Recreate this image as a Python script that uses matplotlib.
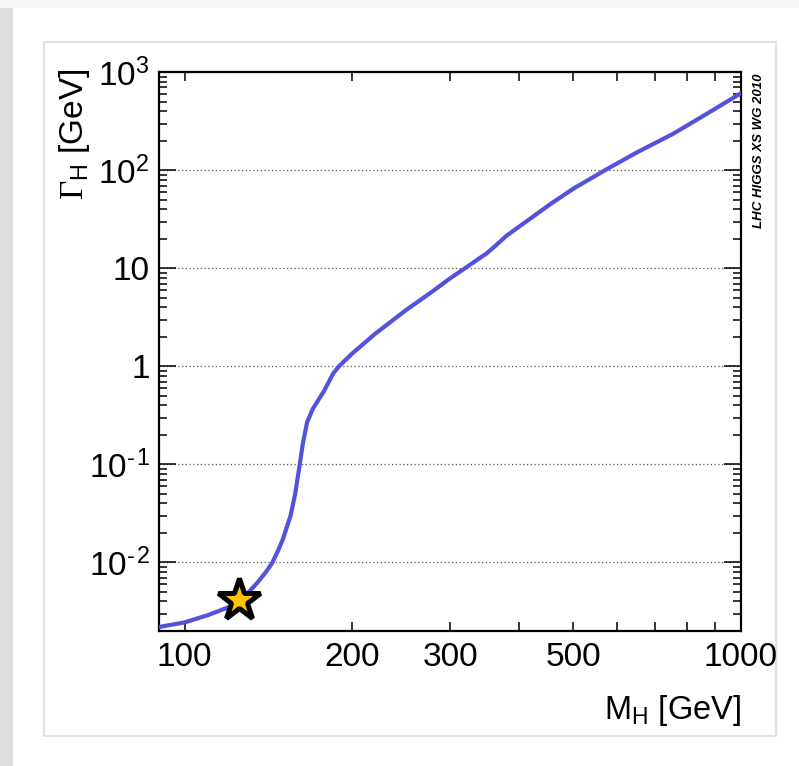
import numpy as np
import matplotlib.pyplot as plt
from matplotlib.patches import Rectangle
from matplotlib.ticker import FixedLocator, NullFormatter, LogLocator

# Higgs total width vs mass
mass = [90, 100, 110, 120, 125, 130, 135, 140, 143.5, 147, 150, 153, 155, 158,
        161, 163, 166, 170, 178, 185, 190, 200, 220, 250, 280, 300, 313, 349,
        360, 379, 424, 454, 500, 573, 650, 755, 850, 1000]
width = [2.2e-3, 2.45e-3, 2.9e-3, 3.5e-3, 4.1e-3, 4.9e-3, 6.2e-3, 8.0e-3, 9.8e-3,
         1.3e-2, 1.7e-2, 2.4e-2, 3.0e-2, 5.0e-2, 0.1, 0.16, 0.27, 0.37, 0.56,
         0.85, 1.02, 1.35, 2.15, 3.75, 5.9, 7.9, 9.3, 14.2, 16.5, 21.5, 34, 45,
         65, 102, 152, 235, 350, 610]

star_mass = [125]
star_width = [4.1e-3]

xticks_major = [100, 200, 300, 400, 500, 600, 700, 800, 900, 1000]
xtick_labels = ["100", "200", "300", "", "500", "", "", "", "", "1000"]
yticks = [1e-2, 1e-1, 1, 10, 1e2, 1e3]
ytick_labels = ["$10^{\u2010\u200a2}$", "$10^{\u2010\u200a1}$", "1", "10", r"$10^{2}$", r"$10^{3}$"]

plt.rcParams["font.family"] = ["Liberation Sans", "DejaVu Sans"]
plt.rcParams["mathtext.fontset"] = "custom"
plt.rcParams["mathtext.rm"] = "Liberation Serif"
plt.rcParams["mathtext.sf"] = "Liberation Sans"
plt.rcParams["mathtext.it"] = "Liberation Sans:italic"
plt.rcParams["mathtext.default"] = "sf"

fig = plt.figure(figsize=(7.99, 7.66), dpi=100)
W, H = 799, 766

# slide-like background: shadow strip at left, faint strip at top, panel border
fig.patches.append(Rectangle((0, 1 - 8 / H), 1, 8 / H, transform=fig.transFigure,
                             facecolor="#f7f6f4", edgecolor="none", zorder=-10))
fig.patches.append(Rectangle((0, 0), 13 / W, 1 - 8 / H, transform=fig.transFigure,
                             facecolor="#dedede", edgecolor="none", zorder=-10))
fig.patches.append(Rectangle((43.5 / W, 1 - 736 / H), (776 - 43.5) / W, (736 - 42) / H,
                             transform=fig.transFigure, facecolor="white",
                             edgecolor="#e2e2e2", linewidth=1.5, zorder=-10))

ax = fig.add_axes([159.3 / W, 1 - 631 / H, (740.7 - 159.3) / W, (631 - 72.3) / H])
ax.set_zorder(1)
ax.set_xscale("log")
ax.set_yscale("log")
ax.set_xlim(90, 1000)
ax.set_ylim(2e-3, 1e3)

ax.plot(mass, width, color="#5252dc", linewidth=3.0, solid_joinstyle="round", zorder=3)
ax.plot(star_mass, star_width, marker="*", markersize=32, markerfacecolor="#ffc400",
        markeredgecolor="black", markeredgewidth=3.6, linestyle="none", zorder=4,
        clip_on=False)

# horizontal dotted grid at decades only
for yv in yticks:
    ax.axhline(yv, color="#555555", linestyle=(0, (1, 2)), linewidth=0.9, zorder=1)

ax.xaxis.set_major_locator(FixedLocator(xticks_major))
ax.set_xticklabels(xtick_labels)
ax.xaxis.set_minor_formatter(NullFormatter())
ax.xaxis.set_minor_locator(FixedLocator([]))
ax.yaxis.set_major_locator(FixedLocator(yticks))
ax.set_yticklabels(ytick_labels)
ax.yaxis.set_minor_locator(LogLocator(base=10, subs=np.arange(2, 10)))
ax.yaxis.set_minor_formatter(NullFormatter())

ax.tick_params(which="both", direction="in", top=True, right=True, width=1.1,
               labelsize=24, colors="black")
ax.tick_params(axis="x", which="major", length=6.5, pad=8)
ax.tick_params(axis="y", which="major", length=12, pad=7)
ax.tick_params(axis="y", which="minor", length=6)
for s in ax.spines.values():
    s.set_linewidth(1.6)

fig.text(741 / W, 1 - 711 / H, r"M$_{\mathsf{H}}$ [GeV]", ha="right", va="center",
         fontsize=23.5)
fig.text(75 / W, 1 - 68 / H, r"$\mathrm{\Gamma}_{\mathsf{H}}$ [GeV]", rotation=90,
         ha="center", va="top", fontsize=24)
fig.text(759 / W, 1 - 73 / H, "LHC HIGGS XS WG 2010", rotation=90, ha="center",
         va="top", fontsize=9.5, fontweight="bold", fontstyle="italic")

fig.savefig("out.png", dpi=100)
